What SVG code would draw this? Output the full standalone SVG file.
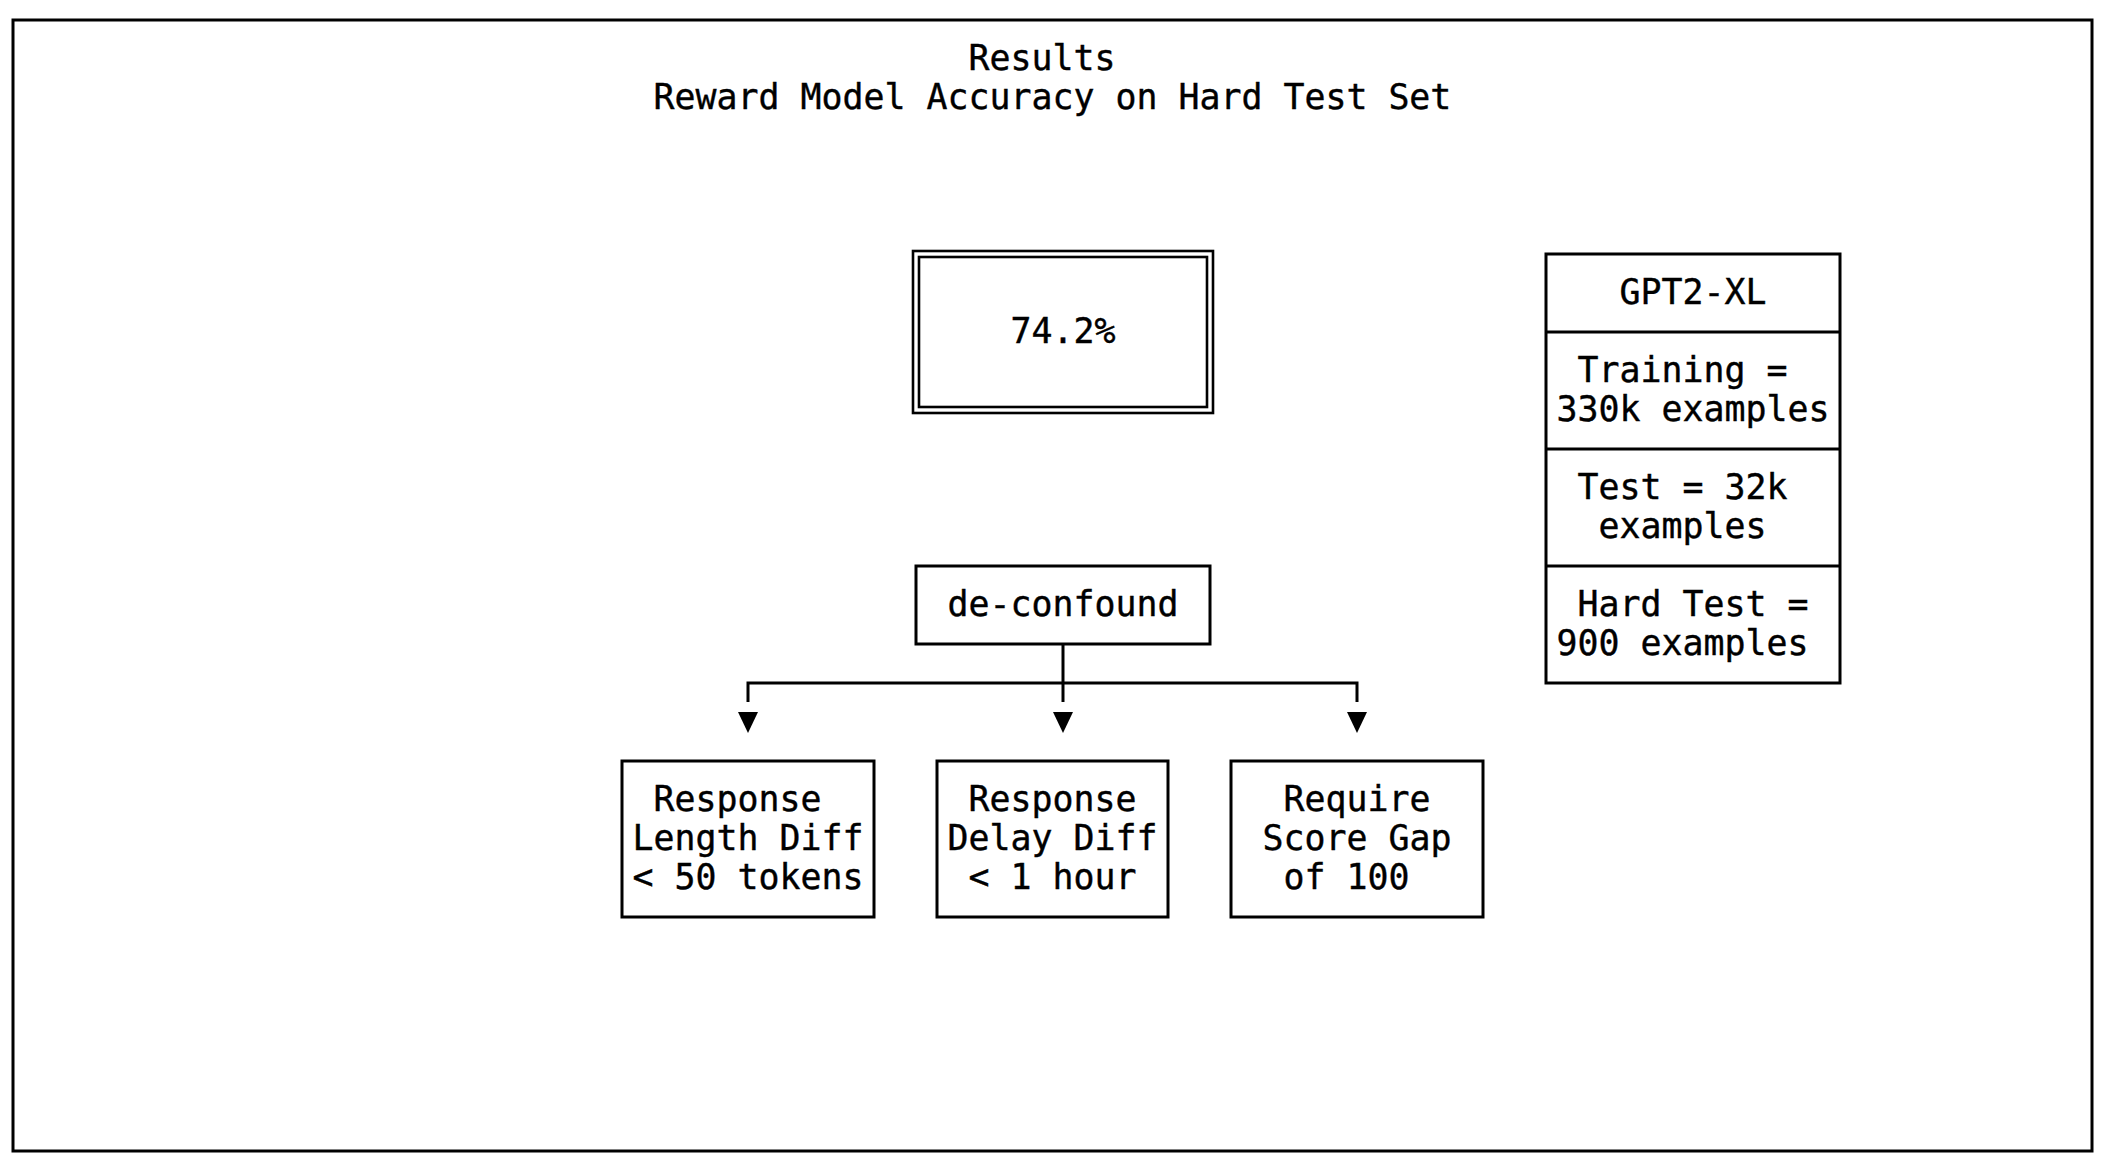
<svg xmlns="http://www.w3.org/2000/svg" width="2103" height="1173" viewBox="0 0 2103 1173">
  <style>
    text { font-family: "DejaVu Sans Mono", "Liberation Mono", monospace; font-size: 34.88px; fill: #000; stroke: #000; stroke-width: 0.4; }
    .box { fill: none; stroke: #000; stroke-width: 3; }
    .dbl { fill: none; stroke: #000; stroke-width: 2.6; }
    .wire { fill: none; stroke: #000; stroke-width: 3; }
    .head { fill: #000; stroke: none; }
  </style>
  <rect x="0" y="0" width="2103" height="1173" fill="#fff"/>
  <g id="frame">
    <rect class="box" x="13" y="20" width="2079" height="1131"/>
  </g>
  <g id="title">
    <text x="968.5" y="70">Results</text>
    <text x="653.5" y="109">Reward Model Accuracy on Hard Test Set</text>
  </g>
  <g id="result">
    <rect class="dbl" x="913" y="251" width="300" height="162"/>
    <rect class="dbl" x="919" y="257" width="288" height="150"/>
    <text x="1010.5" y="343">74.2%</text>
  </g>
  <g id="gpt2">
    <rect class="box" x="1546" y="254" width="294" height="429"/>
    <line class="box" x1="1546" y1="332" x2="1840" y2="332"/>
    <line class="box" x1="1546" y1="449" x2="1840" y2="449"/>
    <line class="box" x1="1546" y1="566" x2="1840" y2="566"/>
    <text x="1619.5" y="304">GPT2-XL</text>
    <text x="1577.5" y="382">Training =</text>
    <text x="1556.5" y="421">330k examples</text>
    <text x="1577.5" y="499">Test = 32k</text>
    <text x="1598.5" y="538">examples</text>
    <text x="1577.5" y="616">Hard Test =</text>
    <text x="1556.5" y="655">900 examples</text>
  </g>
  <g id="deconfound">
    <rect class="box" x="916" y="566" width="294" height="78"/>
    <text x="947.5" y="616">de-confound</text>
  </g>
  <g id="length">
    <rect class="box" x="622" y="761" width="252" height="156"/>
    <text x="653.5" y="811">Response</text>
    <text x="632.5" y="850">Length Diff</text>
    <text x="632.5" y="889">&lt; 50 tokens</text>
  </g>
  <g id="delay">
    <rect class="box" x="937" y="761" width="231" height="156"/>
    <text x="968.5" y="811">Response</text>
    <text x="947.5" y="850">Delay Diff</text>
    <text x="968.5" y="889">&lt; 1 hour</text>
  </g>
  <g id="score">
    <rect class="box" x="1231" y="761" width="252" height="156"/>
    <text x="1283.5" y="811">Require</text>
    <text x="1262.5" y="850">Score Gap</text>
    <text x="1283.5" y="889">of 100</text>
  </g>
  <g id="connectors">
    <line class="wire" x1="1063" y1="644" x2="1063" y2="702"/>
    <polyline class="wire" points="748,702 748,683 1357,683 1357,702"/>
    <polygon class="head" points="738,712 758,712 748,733"/>
    <polygon class="head" points="1053,712 1073,712 1063,733"/>
    <polygon class="head" points="1347,712 1367,712 1357,733"/>
  </g>
</svg>
